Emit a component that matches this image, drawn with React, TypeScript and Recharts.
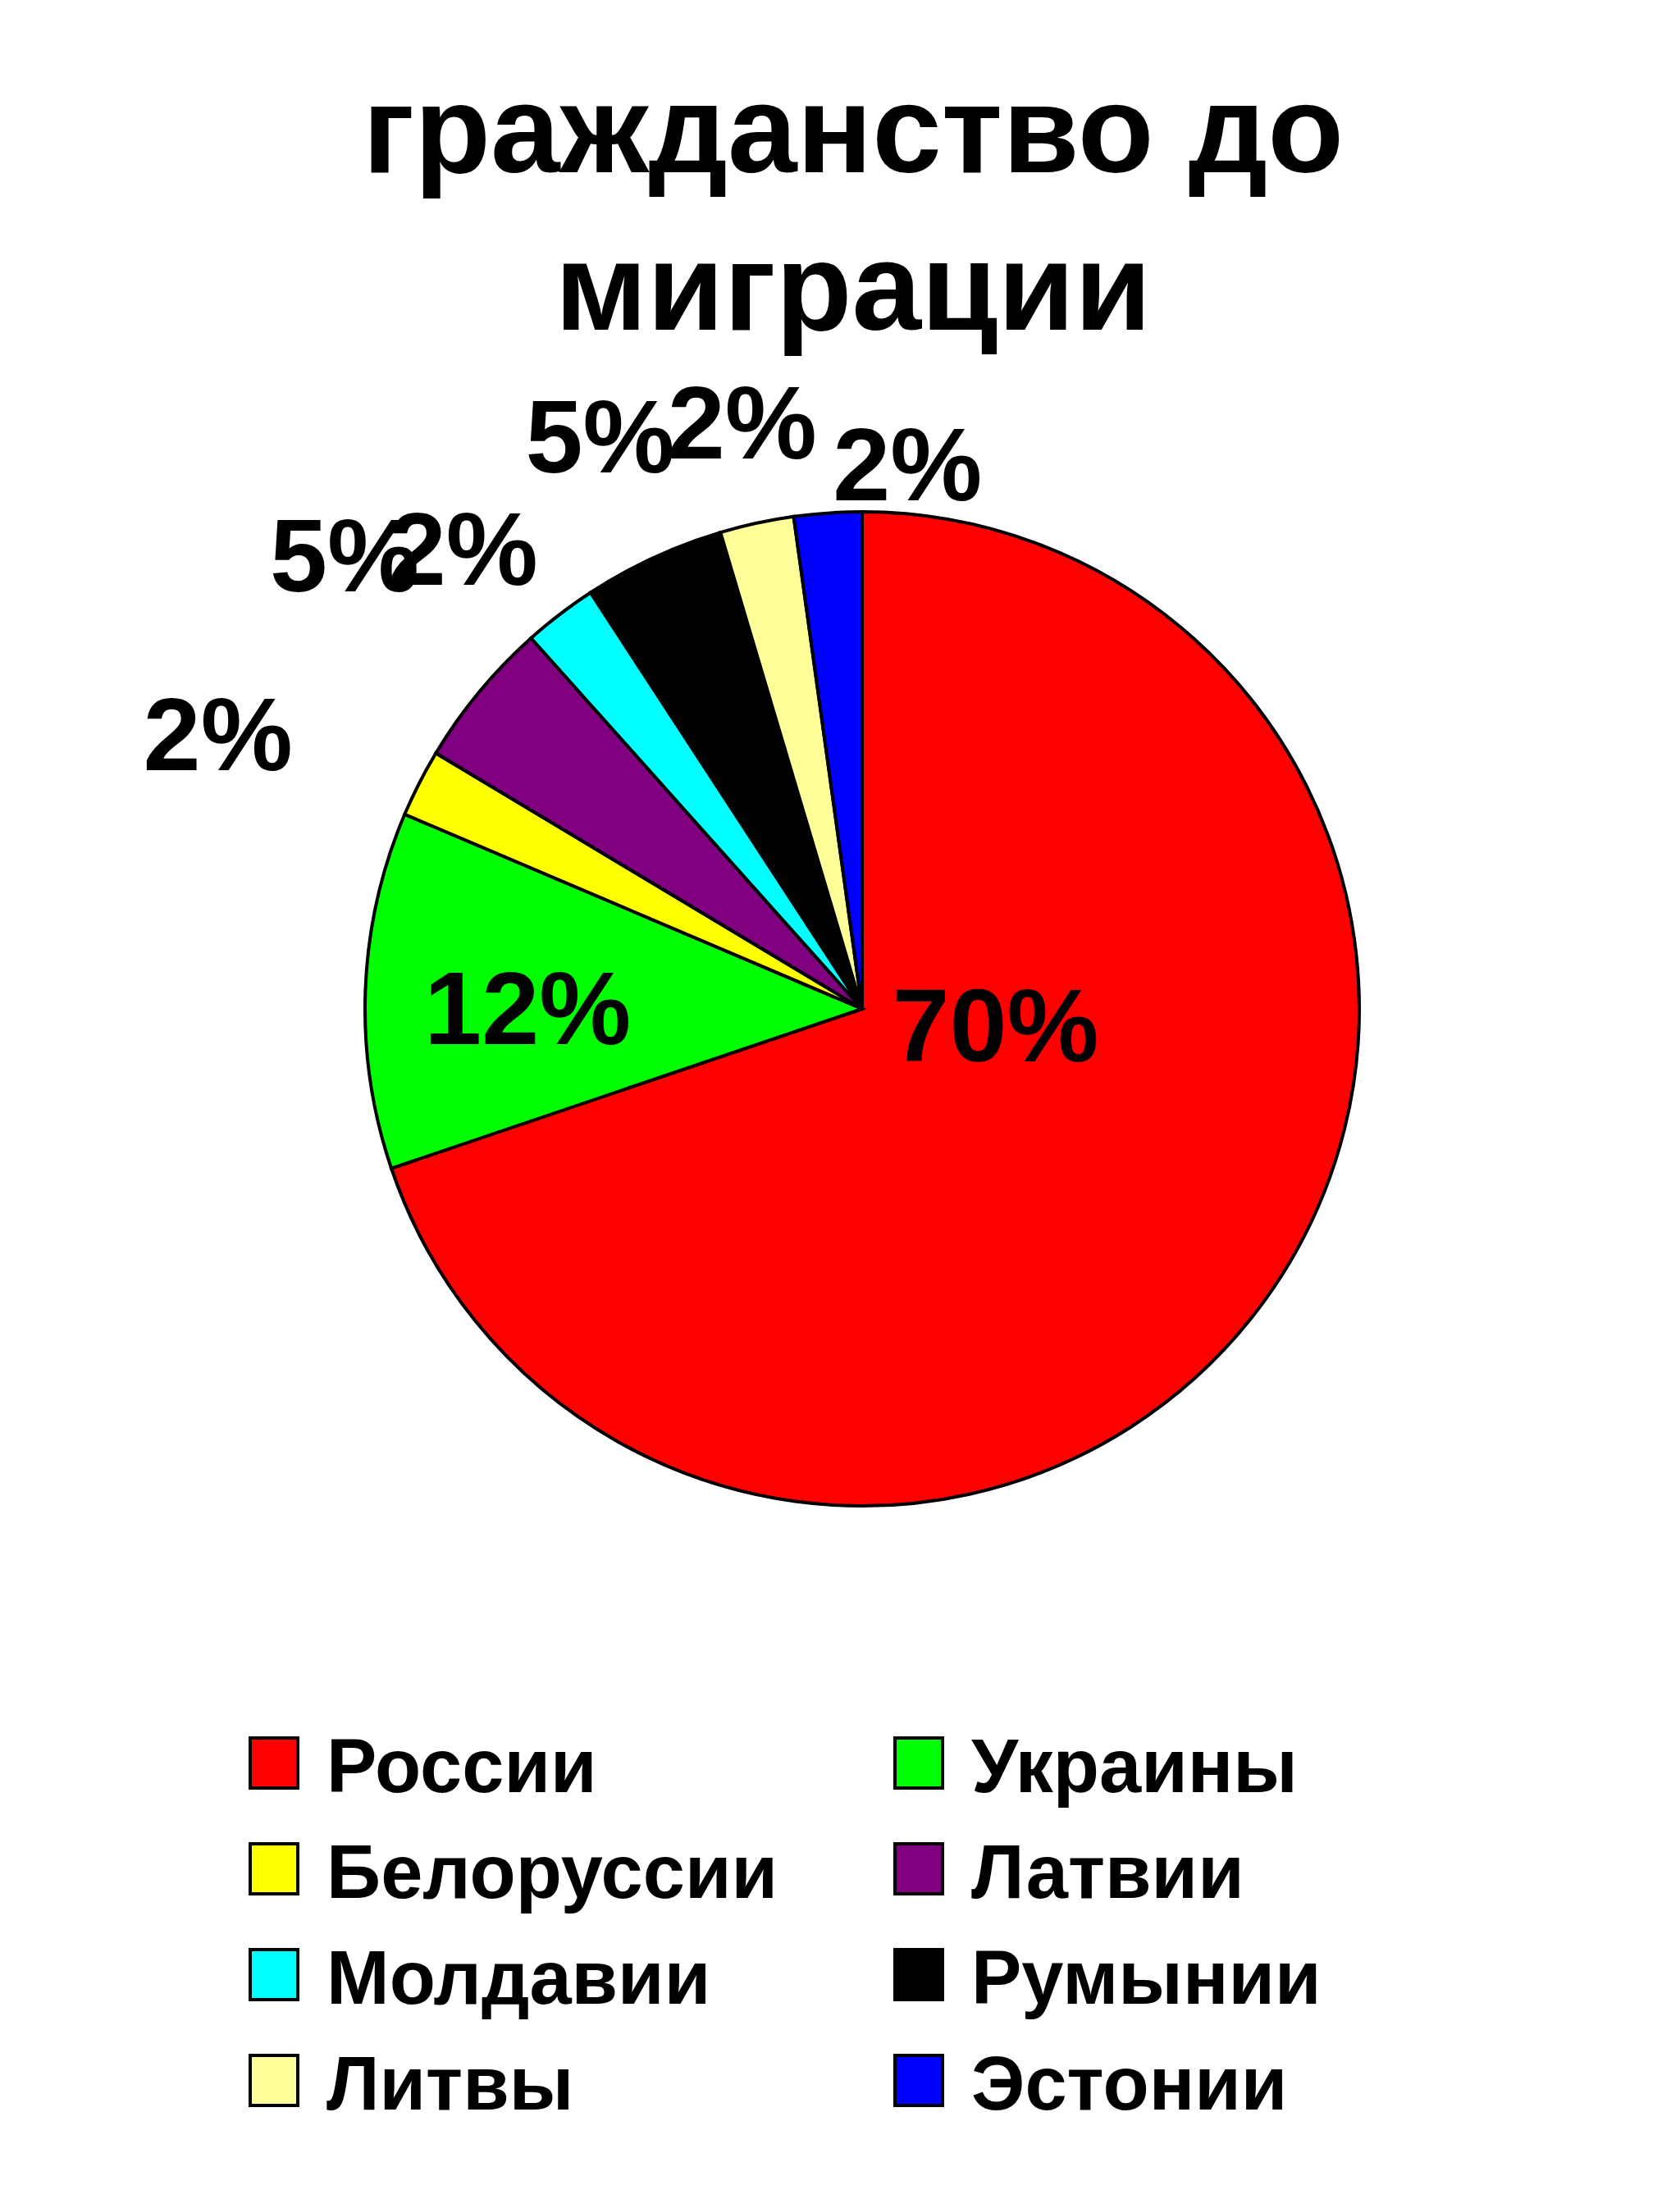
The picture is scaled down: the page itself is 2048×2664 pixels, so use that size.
import React from 'react';
import { PieChart, Pie, Cell, Legend } from 'recharts';

const categories = ['России', 'Украины', 'Белоруссии', 'Латвии', 'Молдавии', 'Румынии', 'Литвы', 'Эстонии'];
const shares = [69.8, 11.6, 2.2, 4.8, 2.4, 4.6, 2.4, 2.2];
const colors = ['#FF0000', '#00FF00', '#FFFF00', '#800080', '#00FFFF', '#000000', '#FFFF99', '#0000FF'];
const titleLines = ['гражданство до', 'миграции'];

const data = categories.map((name, i) => ({ name, value: shares[i] }));

// label placement (style): radial distance as fraction of outer radius, and angular nudge in degrees
const labelRadius = [0.27, 0.673, 1.41, 1.386, 1.227, 1.269, 1.206, 1.102];
const labelShift = [28.9, 1.9, 3.8, -1.7, 3.4, -0.3, -0.7, -8.7];

const FONT = '"Liberation Sans", Arial, sans-serif';
const RAD = Math.PI / 180;

const renderLabel = (props: any) => {
  const { cx, cy, midAngle, outerRadius, index, percent } = props;
  const a = (midAngle + labelShift[index]) * RAD;
  const r = outerRadius * labelRadius[index];
  const x = cx + r * Math.cos(a);
  const y = cy - r * Math.sin(a);
  const fs = 126;
  return (
    <text
      key={`lbl-${index}`}
      x={x}
      y={y + fs * 0.358}
      textAnchor="middle"
      fontFamily={FONT}
      fontWeight="bold"
      fontSize={fs}
      fill="#000"
    >
      {`${Math.round(percent * 100)}%`}
    </text>
  );
};

const LegendContent = (props: any) => {
  const payload = [...(props.payload || [])].sort(
    (a: any, b: any) => categories.indexOf(a.value) - categories.indexOf(b.value)
  );
  return (
    <svg width={2048} height={600} style={{ display: 'block' }}>
      {payload.map((entry: any, i: number) => {
        const col = i % 2;
        const row = Math.floor(i / 2);
        const x = 305 + col * 786;
        const top = 79 + row * 129;
        return (
          <g key={`leg-${i}`}>
            <rect x={x} y={top} width={58} height={61} fill={entry.color} stroke="#000" strokeWidth={4} />
            <text
              x={x + 93}
              y={top + 66}
              fontFamily={FONT}
              fontWeight="bold"
              fontSize={92}
              fill="#000"
            >
              {entry.value}
            </text>
          </g>
        );
      })}
    </svg>
  );
};

export default function App() {
  return (
    <div style={{ position: 'absolute', left: 0, top: 0, width: 2048, height: 2664, background: '#fff' }}>
      <PieChart width={2048} height={2664} margin={{ top: 0, right: 0, bottom: 0, left: 0 }}>
        <Pie
          data={data}
          dataKey="value"
          nameKey="name"
          cx={1051}
          cy={1230}
          outerRadius={606}
          startAngle={90}
          endAngle={-270}
          stroke="#000"
          strokeWidth={4}
          label={renderLabel}
          labelLine={false}
          isAnimationActive={false}
        >
          {data.map((d, i) => (
            <Cell key={d.name} fill={colors[i]} />
          ))}
        </Pie>
        <Legend
          content={<LegendContent />}
          wrapperStyle={{ position: 'absolute', left: 0, top: 2040, width: 2048, height: 600 }}
        />
      </PieChart>
      <svg
        width={2048}
        height={460}
        style={{ position: 'absolute', left: 0, top: 0, pointerEvents: 'none' }}
      >
        {titleLines.map((t, i) => (
          <text
            key={t}
            x={1040}
            y={210 + i * 192}
            textAnchor="middle"
            fontFamily={FONT}
            fontWeight="bold"
            fontSize={152}
            fill="#000"
          >
            {t}
          </text>
        ))}
      </svg>
    </div>
  );
}
